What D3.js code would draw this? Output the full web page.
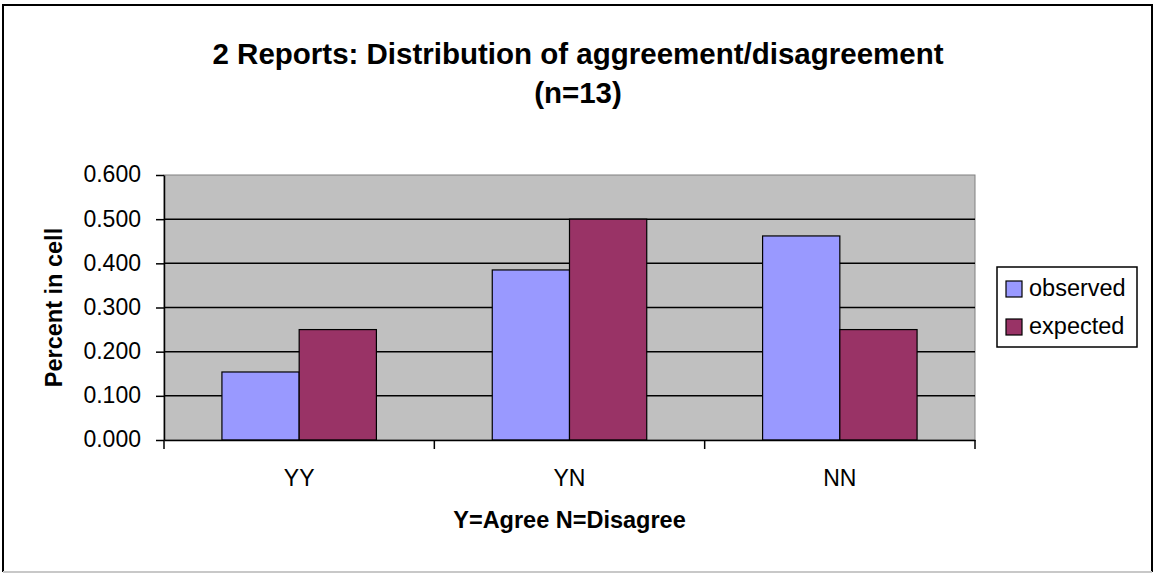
<!DOCTYPE html>
<html>
<head>
<meta charset="utf-8">
<script src="https://cdn.jsdelivr.net/npm/d3@7.9.0/dist/d3.min.js"></script>
<style>
  body { margin: 0; background: #fff; }
  svg { display: block; font-family: "Liberation Sans", Arial, sans-serif; }
</style>
</head>
<body>
<svg id="chart" width="1155" height="573"></svg>
<script>
// chart data
const categories = ["YY", "YN", "NN"];
const seriesNames = ["observed", "expected"];
const observed = [0.154, 0.385, 0.462];
const expected = [0.250, 0.500, 0.250];
const yTicks = [0, 0.1, 0.2, 0.3, 0.4, 0.5, 0.6];
const colors = ["#9999FF", "#993366"];

const svg = d3.select("#chart");

// outer chart frame
svg.append("path")
    .attr("d", "M3,572 V5 H1152 V572")
    .attr("fill", "none")
    .attr("stroke", "#000")
    .attr("stroke-width", 2);
svg.append("line")
    .attr("x1", 3).attr("x2", 1152).attr("y1", 572).attr("y2", 572)
    .attr("stroke", "#c8c8c8").attr("stroke-width", 2);

// plot area
const plot = { left: 164, right: 975, top: 175, bottom: 440 };

const x0 = d3.scaleBand()
    .domain(categories)
    .range([plot.left, plot.right])
    .padding(0);

// excel style: gap width 150% -> 0.75 bar on each side
const x1 = d3.scaleBand()
    .domain(seriesNames)
    .range([0, x0.bandwidth()])
    .paddingInner(0)
    .paddingOuter(0.75);

const y = d3.scaleLinear()
    .domain([0, 0.6])
    .range([plot.bottom, plot.top]);

svg.append("rect")
    .attr("x", plot.left)
    .attr("y", plot.top)
    .attr("width", plot.right - plot.left)
    .attr("height", plot.bottom - plot.top)
    .attr("fill", "#C0C0C0")
    .attr("stroke", "#808080")
    .attr("stroke-width", 1);

// gridlines
svg.append("g")
    .selectAll("line")
    .data(yTicks.filter(t => t > 0 && t < 0.6))
    .join("line")
    .attr("x1", plot.left)
    .attr("x2", plot.right)
    .attr("y1", d => y(d))
    .attr("y2", d => y(d))
    .attr("stroke", "#000")
    .attr("stroke-width", 1.5);

// bars
const rows = categories.map((c, i) => ({ cat: c, values: [observed[i], expected[i]] }));

const groups = svg.append("g")
    .selectAll("g")
    .data(rows)
    .join("g")
    .attr("transform", d => `translate(${x0(d.cat)},0)`);

groups.selectAll("rect")
    .data(d => d.values.map((v, j) => ({ name: seriesNames[j], value: v, idx: j })))
    .join("rect")
    .attr("x", d => x1(d.name))
    .attr("y", d => y(d.value))
    .attr("width", x1.bandwidth())
    .attr("height", d => y(0) - y(d.value))
    .attr("fill", d => colors[d.idx])
    .attr("stroke", "#000")
    .attr("stroke-width", 1.2);

// y axis
const yAxis = svg.append("g")
    .attr("transform", `translate(${plot.left},0)`)
    .call(d3.axisLeft(y).tickValues(yTicks).tickFormat(d3.format(".3f")).tickSize(8).tickPadding(15).tickSizeOuter(0));
yAxis.select(".domain").attr("stroke", "#000").attr("stroke-width", 1.5);
yAxis.selectAll(".tick line").attr("stroke", "#000").attr("stroke-width", 1.5);
yAxis.selectAll("text")
    .attr("font-size", 23)
    .attr("font-family", "'Liberation Sans', Arial, sans-serif")
    .attr("fill", "#000")
    .attr("dy", "0.30em");

// x axis
const xAxis = svg.append("g")
    .attr("transform", `translate(0,${plot.bottom})`)
    .call(d3.axisBottom(x0).tickSize(0).tickPadding(30));
xAxis.select(".domain").attr("stroke", "#000").attr("stroke-width", 1.5);
xAxis.selectAll("text")
    .attr("font-size", 23)
    .attr("font-family", "'Liberation Sans', Arial, sans-serif")
    .attr("fill", "#000");

// category boundary ticks
const bounds = categories.map(c => x0(c)).concat([x0.range()[1]]);
svg.append("g")
    .selectAll("line")
    .data(bounds)
    .join("line")
    .attr("x1", d => d).attr("x2", d => d)
    .attr("y1", plot.bottom).attr("y2", plot.bottom + 9)
    .attr("stroke", "#000")
    .attr("stroke-width", 1.5);

// titles
const title = svg.append("text")
    .attr("text-anchor", "middle")
    .attr("font-weight", "bold")
    .attr("font-size", 29.5)
    .attr("fill", "#000");
title.append("tspan").attr("x", 578).attr("y", 64).text("2 Reports: Distribution of aggreement/disagreement");
title.append("tspan").attr("x", 578).attr("y", 103).text("(n=13)");

svg.append("text")
    .attr("x", (plot.left + plot.right) / 2)
    .attr("y", 528)
    .attr("text-anchor", "middle")
    .attr("font-weight", "bold")
    .attr("font-size", 23.5)
    .text("Y=Agree N=Disagree");

svg.append("text")
    .attr("transform", `translate(62,${(plot.top + plot.bottom) / 2}) rotate(-90)`)
    .attr("text-anchor", "middle")
    .attr("font-weight", "bold")
    .attr("font-size", 23.5)
    .text("Percent in cell");

// legend
const legend = svg.append("g").attr("transform", "translate(997,267)");
legend.append("rect")
    .attr("width", 140)
    .attr("height", 80)
    .attr("fill", "#fff")
    .attr("stroke", "#000")
    .attr("stroke-width", 1.5);

const items = legend.selectAll("g.item")
    .data(seriesNames)
    .join("g")
    .attr("class", "item")
    .attr("transform", (d, i) => `translate(9,${14 + i * 38})`);
items.append("rect")
    .attr("width", 16)
    .attr("height", 16)
    .attr("fill", (d, i) => colors[i])
    .attr("stroke", "#000")
    .attr("stroke-width", 1.2);
items.append("text")
    .attr("x", 23)
    .attr("y", 15)
    .attr("font-size", 23.5)
    .text(d => d);
</script>
</body>
</html>
